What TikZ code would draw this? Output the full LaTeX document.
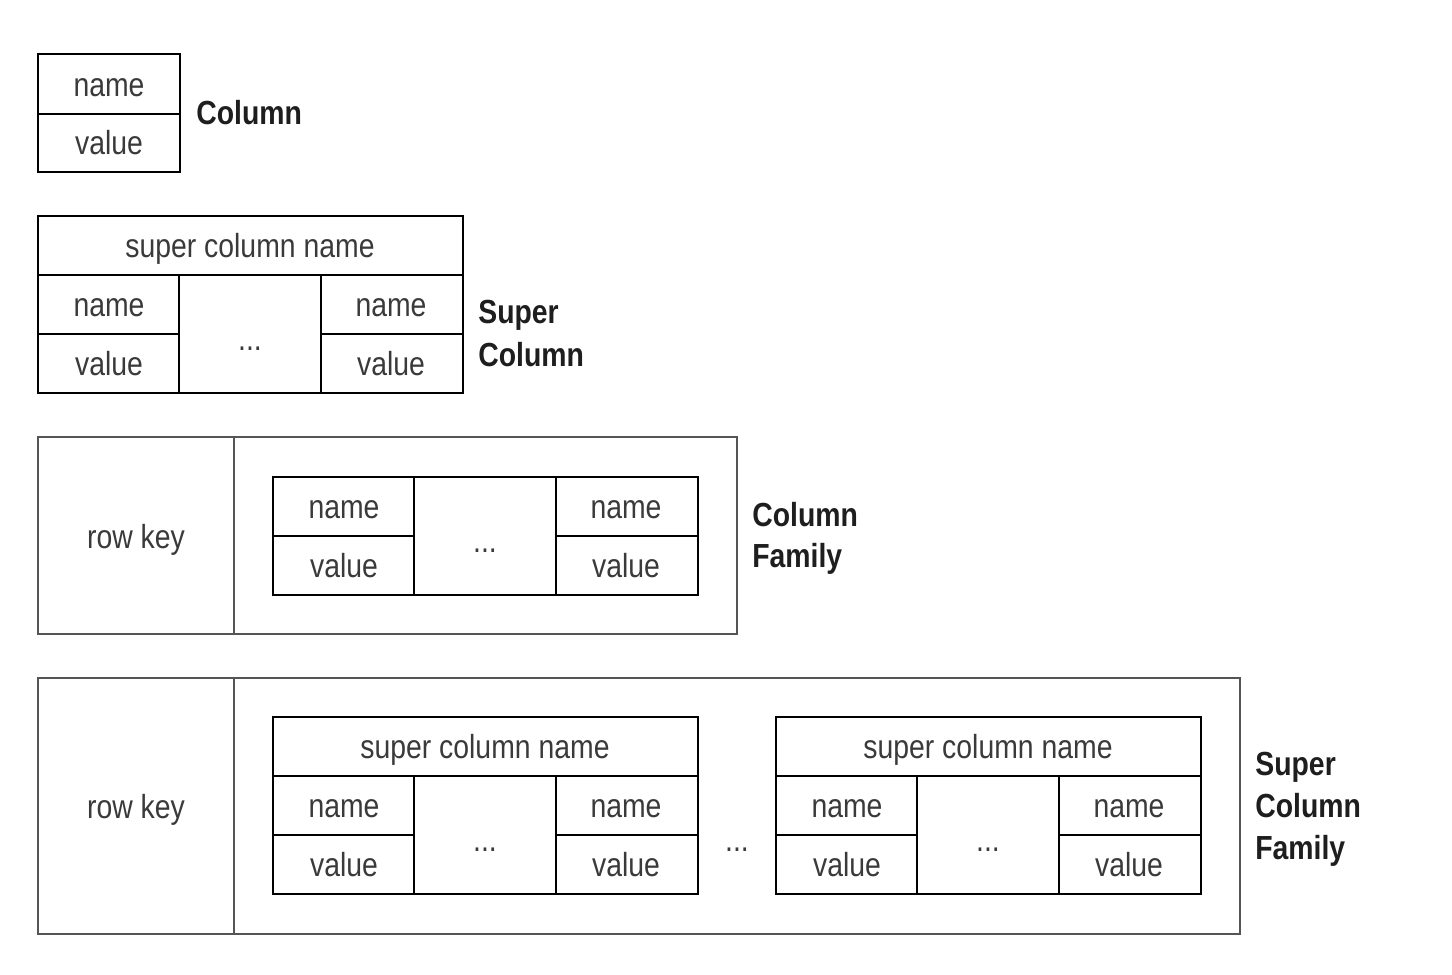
\documentclass[tikz,border=0pt]{standalone}
\usepackage{fontspec}
\setmainfont{Liberation Sans}[FakeStretch=0.85]
\definecolor{txt}{HTML}{3A3A3A}
\definecolor{lbl}{HTML}{1E1E1E}
\definecolor{outer}{HTML}{555555}
\tikzset{
  cell/.style={inner sep=0pt, text=txt, font=\fontsize{19}{22}\selectfont, text height=9.9pt, text depth=0pt, yshift=-0.06cm},
  dots/.style={cell, yshift=-0.1cm},
  lab/.style={inner sep=0pt, anchor=west, text=lbl, font=\fontsize{19}{22}\selectfont\bfseries, text height=9.9pt, text depth=0pt, yshift=-0.04cm},
  inb/.style={draw=black, line width=1.6pt},
  outb/.style={draw=outer, line width=1.1pt},
}
% super column block: #1 prefix, #2 left x, #3 top y
\newcommand{\SCblock}[3]{%
  \draw[inb] (#2,#3) rectangle ++(425,177);
  \draw[inb] (#2,#3+59) -- ++(425,0);
  \draw[inb] (#2+141,#3+59) -- ++(0,118);
  \draw[inb] (#2+283,#3+59) -- ++(0,118);
  \draw[inb] (#2,#3+118) -- ++(141,0);
  \draw[inb] (#2+283,#3+118) -- ++(142,0);
  \node[cell] (#1h) at (#2+212,#3+30) {super column name};
  \node[cell] (#1n1) at (#2+71,#3+89) {name};
  \node[cell] (#1v1) at (#2+71,#3+148) {value};
  \node[dots] (#1d) at (#2+212,#3+118) {...};
  \node[cell] (#1n2) at (#2+353,#3+89) {name};
  \node[cell] (#1v2) at (#2+353,#3+148) {value};
}
\begin{document}
\begin{tikzpicture}[x=0.02cm,y=-0.02cm]
\useasboundingbox (0,0) rectangle (1452,974);
% Column
\draw[inb] (38,54) rectangle (180,172);
\draw[inb] (38,114) -- (180,114);
\node[cell] (cn) at (109,85) {name};
\node[cell] (cv) at (109,143) {value};
\node[lab] (lcol) at (196,114) {Column};
% Super Column
\SCblock{sc}{38}{216}
\node[lab] (lsc1) at (478,313) {Super};
\node[lab] (lsc2) at (478,356) {Column};
% Column Family
\draw[outb] (38,437) rectangle (737,634);
\draw[outb] (234,437) -- (234,634);
\node[cell] (cfrk) at (136,537) {row key};
\draw[inb] (273,477) rectangle (698,595);
\draw[inb] (414,477) -- (414,595);
\draw[inb] (556,477) -- (556,595);
\draw[inb] (273,536) -- (414,536);
\draw[inb] (556,536) -- (698,536);
\node[cell] (cfn1) at (344,507) {name};
\node[cell] (cfv1) at (344,566) {value};
\node[dots] (cfd) at (485,536) {...};
\node[cell] (cfn2) at (626,507) {name};
\node[cell] (cfv2) at (626,566) {value};
\node[lab] (lcf1) at (752,516) {Column};
\node[lab] (lcf2) at (752,557) {Family};
% Super Column Family
\draw[outb] (38,678) rectangle (1240,934);
\draw[outb] (234,678) -- (234,934);
\node[cell] (scfrk) at (136,807) {row key};
\SCblock{sa}{273}{717}
\SCblock{sb}{776}{717}
\node[dots] (scfd) at (737,835) {...};
\node[lab] (lscf1) at (1255,765) {Super};
\node[lab] (lscf2) at (1255,807) {Column};
\node[lab] (lscf3) at (1255,849) {Family};
\end{tikzpicture}
\end{document}
